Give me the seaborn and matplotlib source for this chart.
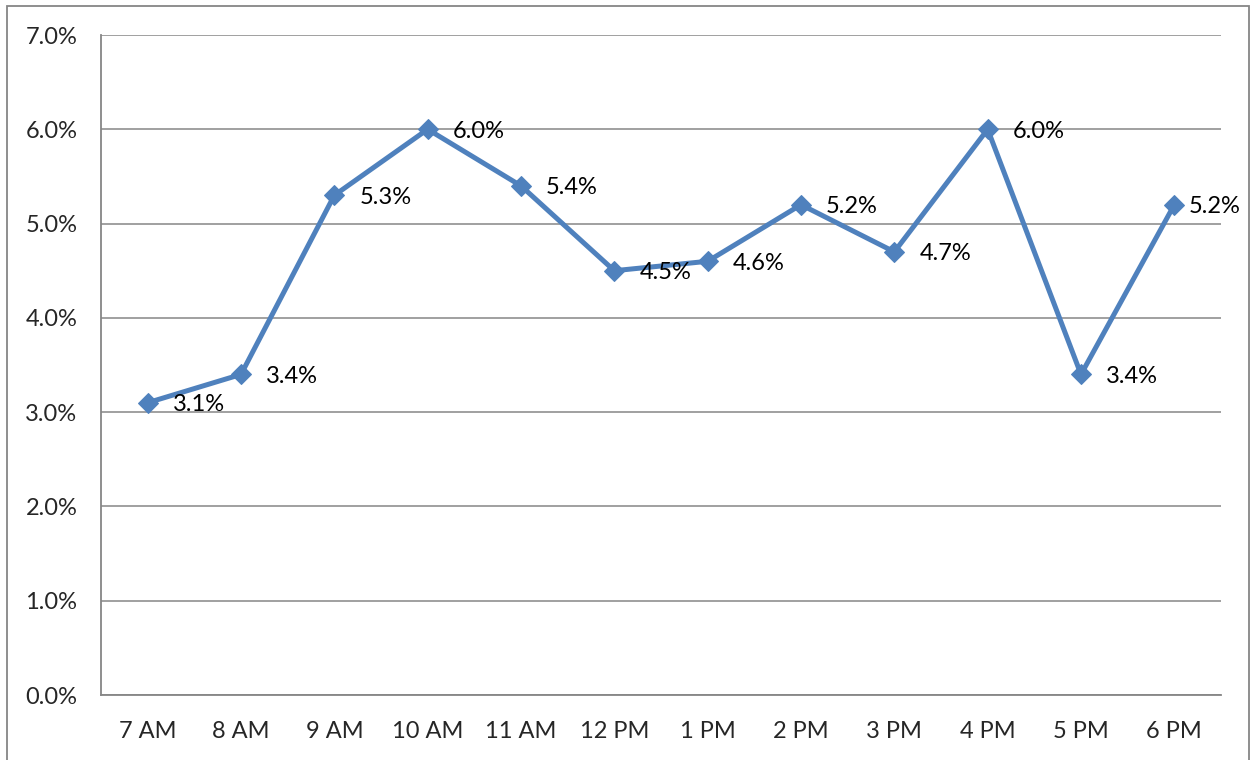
import matplotlib
matplotlib.use("Agg")
import matplotlib.pyplot as plt
import matplotlib.patches as mpatches
from matplotlib.ticker import FixedLocator, PercentFormatter
import numpy as np
import pandas as pd
import seaborn as sns

hours = ["7 AM", "8 AM", "9 AM", "10 AM", "11 AM", "12 PM",
         "1 PM", "2 PM", "3 PM", "4 PM", "5 PM", "6 PM"]
share = [3.1, 3.4, 5.3, 6.0, 5.4, 4.5, 4.6, 5.2, 4.7, 6.0, 3.4, 5.2]

df = pd.DataFrame({"hour": hours, "share": share})

sns.set_style("white")
plt.rcParams["font.family"] = ["Lato", "DejaVu Sans"]

grid_col = "#868686"
line_col = "#4F81BD"
fs = 17

fig = plt.figure(figsize=(12.52, 7.6), dpi=100)
ax = fig.add_axes([101 / 1252, 1 - 695 / 760, 1120 / 1252, 660 / 760])

# outer chart border (bottom runs off the picture)
fig.patches.append(mpatches.Rectangle((6.5 / 1252, -0.05), 1242 / 1252, 1 - 5.5 / 760 + 0.05,
                                      transform=fig.transFigure, fill=False,
                                      edgecolor=grid_col, linewidth=1.3))

sns.lineplot(data=df, x="hour", y="share", ax=ax, color=line_col, linewidth=3.6,
             marker="D", markersize=10, markeredgecolor=line_col, sort=False)

for i, v in enumerate(share):
    # last label squeezed in to stay inside the chart border
    dx = 10.5 if i == len(share) - 1 else 18
    ax.annotate(f"{v:.1f}%", (i, v), xytext=(dx, -1.5), textcoords="offset points",
                ha="left", va="center", fontsize=fs, color="black")

ax.set_xlim(-0.5, len(hours) - 0.5)
ax.set_ylim(0, 7)
ax.set_yticks(np.arange(0, 8, 1))
ax.yaxis.set_major_formatter(PercentFormatter(decimals=1))
ax.yaxis.grid(True, color=grid_col, linewidth=1.1)
ax.xaxis.grid(False)

ax.set_xticks(range(len(hours)))
ax.set_xticklabels(hours)
ax.xaxis.set_minor_locator(FixedLocator(np.arange(-0.5, len(hours), 1)))
ax.tick_params(axis="x", which="major", length=0, pad=19, labelsize=fs)
ax.tick_params(axis="x", which="minor", length=5, width=1.1, color=grid_col, direction="out")
ax.tick_params(axis="y", which="major", length=5, width=1.1, color=grid_col,
               direction="out", pad=12, labelsize=fs)
ax.set_xlabel("")
ax.set_ylabel("")

for side in ["top", "right"]:
    ax.spines[side].set_visible(False)
for side in ["left", "bottom"]:
    ax.spines[side].set_color(grid_col)
    ax.spines[side].set_linewidth(1.3)

fig.savefig("out.png", dpi=100)
